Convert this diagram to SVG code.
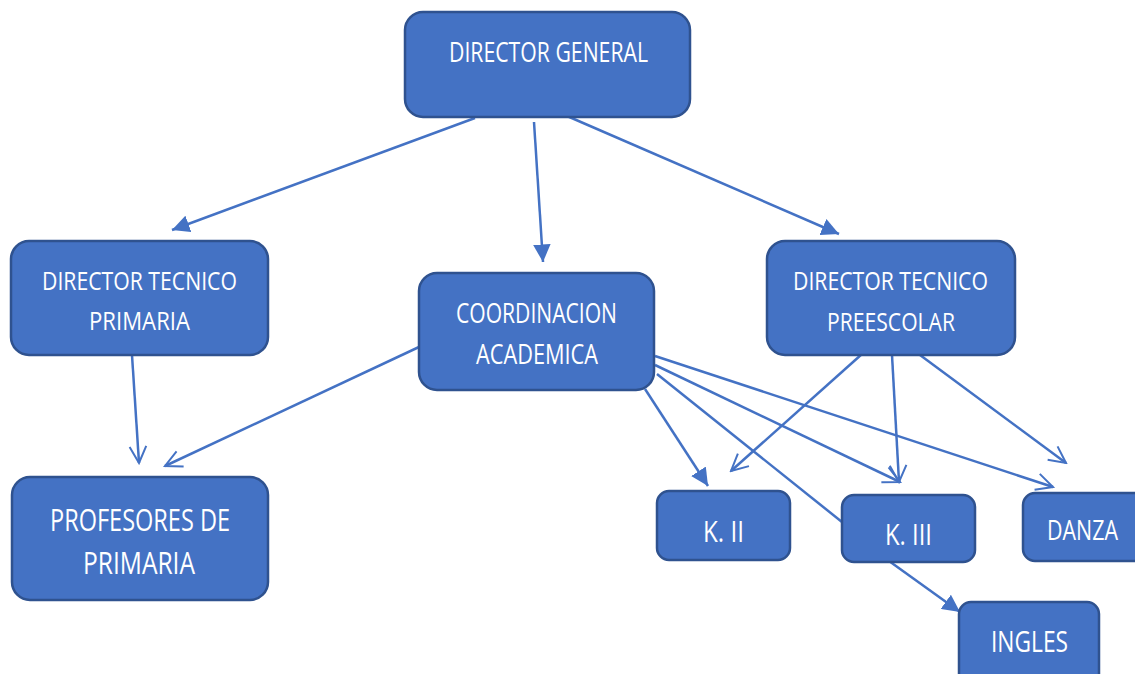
<svg xmlns="http://www.w3.org/2000/svg" width="1135" height="674" viewBox="0 0 1135 674">
<style>
.box{fill:#4472C4;stroke:#2F528F;stroke-width:2.5}
.t{font-family:"Open Sans","Liberation Sans",sans-serif;fill:#FFFFFF;text-anchor:start}
.e{fill:none;stroke:#4472C4;stroke-width:2.5}
.f{marker-end:url(#fa)}
.o{marker-end:url(#oa)}
</style>
<defs>
<marker id="fa" viewBox="0 0 10 10" refX="10" refY="5" markerWidth="7" markerHeight="7" markerUnits="strokeWidth" orient="auto">
<path d="M0,0 L10,5 L0,10 z" fill="#4472C4"/>
</marker>
<marker id="oa" viewBox="0 0 12 12" refX="11" refY="6" markerWidth="8" markerHeight="8" markerUnits="strokeWidth" orient="auto">
<path d="M1,1 L11,6 L1,11" fill="none" stroke="#4472C4" stroke-width="1.2"/>
</marker>
</defs>
<rect width="1135" height="674" fill="#FFFFFF"/>
<g id="connectors">
<line class="e f" x1="475" y1="118" x2="172" y2="230"/>
<line class="e f" x1="534" y1="122" x2="543" y2="262"/>
<line class="e f" x1="567" y1="116" x2="839" y2="234"/>
<line class="e o" x1="132" y1="355" x2="139" y2="463"/>
<line class="e o" x1="419" y1="347" x2="165" y2="466"/>
<line class="e f" x1="645" y1="389" x2="708" y2="486"/>
<line class="e o" x1="862" y1="354" x2="731" y2="471"/>
<line class="e o" x1="892" y1="355" x2="899" y2="482"/>
<line class="e o" x1="920" y1="355" x2="1066" y2="463"/>
<line class="e o" x1="655" y1="356" x2="1053" y2="487"/>
<line class="e o" x1="655" y1="365" x2="900" y2="482"/>
<line class="e" x1="657" y1="374" x2="842" y2="522"/>
<line class="e f" x1="889" y1="561" x2="960" y2="612"/>
</g>
<g id="director-general">
<rect class="box" x="405" y="12" width="285" height="105" rx="18"/>
<text class="t" x="449" y="62" font-size="28" textLength="199" lengthAdjust="spacingAndGlyphs">DIRECTOR GENERAL</text>
</g>
<g id="director-tecnico-primaria">
<rect class="box" x="11" y="241" width="257" height="114" rx="18"/>
<text class="t" x="42" y="290" font-size="25" textLength="195" lengthAdjust="spacingAndGlyphs">DIRECTOR TECNICO</text>
<text class="t" x="89" y="330" font-size="25" textLength="101" lengthAdjust="spacingAndGlyphs">PRIMARIA</text>
</g>
<g id="coordinacion-academica">
<rect class="box" x="419" y="273" width="235" height="117" rx="18"/>
<text class="t" x="456" y="323" font-size="27" textLength="161" lengthAdjust="spacingAndGlyphs">COORDINACION</text>
<text class="t" x="476" y="364" font-size="27" textLength="122" lengthAdjust="spacingAndGlyphs">ACADEMICA</text>
</g>
<g id="director-tecnico-preescolar">
<rect class="box" x="767" y="241" width="248" height="114" rx="18"/>
<text class="t" x="793" y="290" font-size="25" textLength="195" lengthAdjust="spacingAndGlyphs">DIRECTOR TECNICO</text>
<text class="t" x="827" y="331" font-size="25" textLength="128" lengthAdjust="spacingAndGlyphs">PREESCOLAR</text>
</g>
<g id="profesores-primaria">
<rect class="box" x="12" y="477" width="256" height="123" rx="18"/>
<text class="t" x="50" y="531" font-size="31" textLength="180" lengthAdjust="spacingAndGlyphs">PROFESORES DE</text>
<text class="t" x="83" y="574" font-size="31" textLength="112" lengthAdjust="spacingAndGlyphs">PRIMARIA</text>
</g>
<g id="k2">
<rect class="box" x="657" y="491" width="133" height="69" rx="12"/>
<text class="t" x="703" y="542" font-size="29" textLength="41" lengthAdjust="spacingAndGlyphs">K. II</text>
</g>
<g id="k3">
<rect class="box" x="842" y="495" width="133" height="67" rx="12"/>
<text class="t" x="885" y="545" font-size="29" textLength="47" lengthAdjust="spacingAndGlyphs">K. III</text>
</g>
<g id="danza">
<rect class="box" x="1023" y="493" width="125" height="68" rx="12"/>
<text class="t" x="1047" y="540" font-size="27" textLength="71" lengthAdjust="spacingAndGlyphs">DANZA</text>
</g>
<g id="ingles">
<rect class="box" x="959" y="602" width="140" height="85" rx="12"/>
<text class="t" x="991" y="652" font-size="29" textLength="77" lengthAdjust="spacingAndGlyphs">INGLES</text>
</g>
</svg>
